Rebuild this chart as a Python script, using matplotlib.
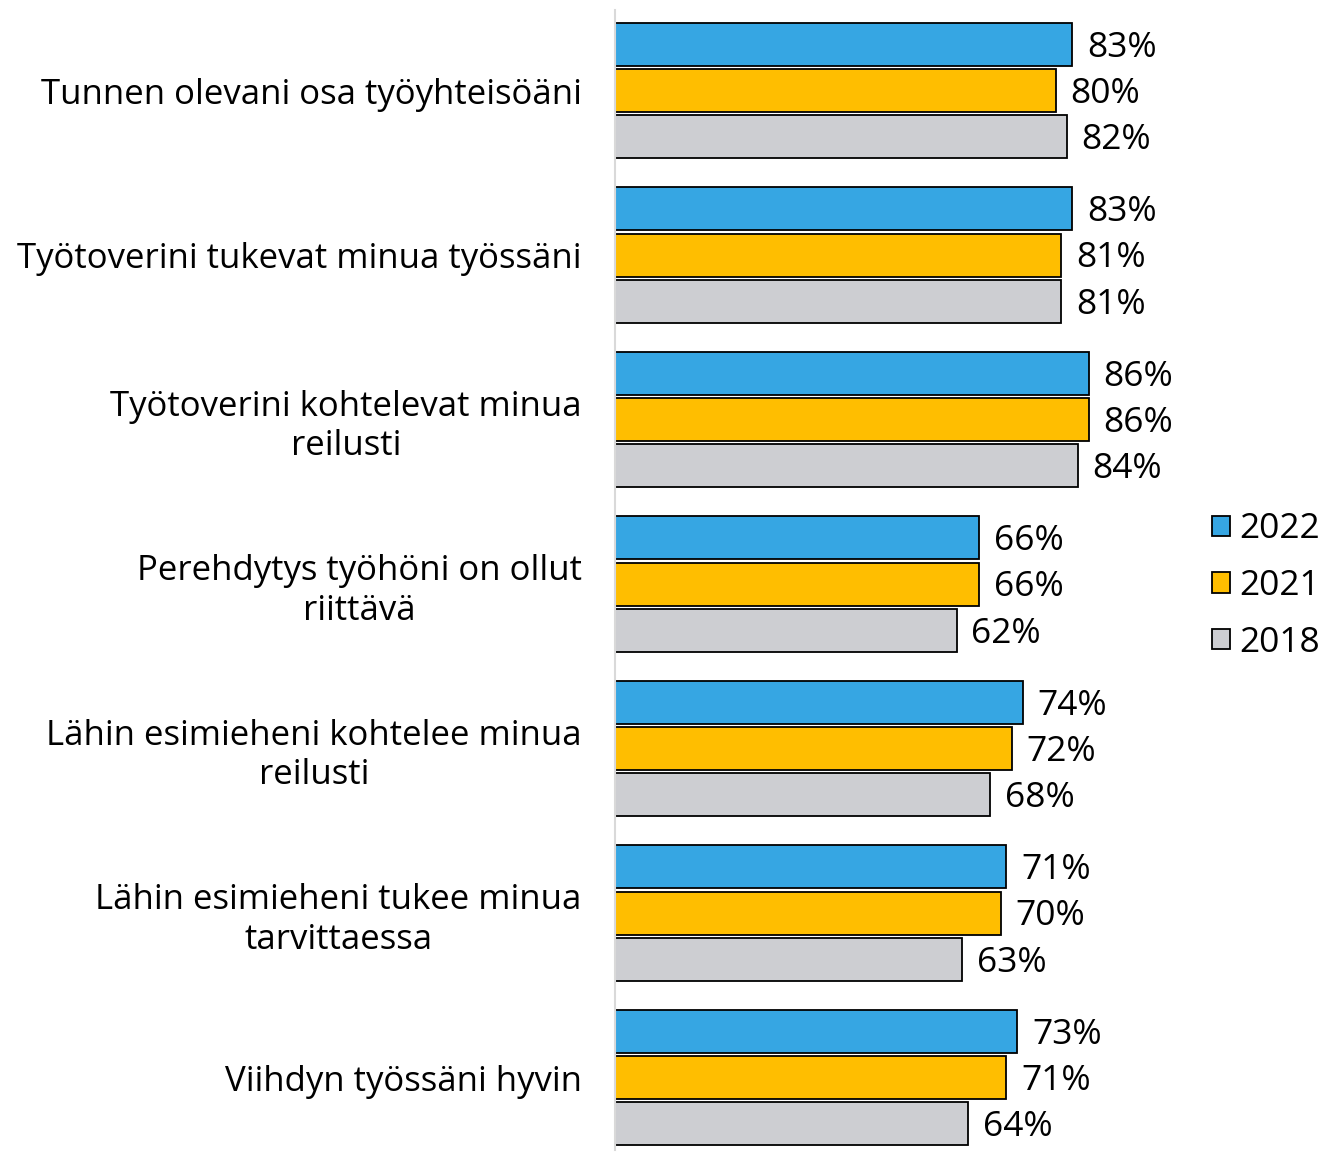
import numpy as np
import matplotlib
matplotlib.use("Agg")
import matplotlib.pyplot as plt
from matplotlib.patches import Patch

plt.rcParams["font.family"] = ["Open Sans", "DejaVu Sans"]

categories = ["Tunnen olevani osa työyhteisöäni",
              "Työtoverini tukevat minua työssäni",
              "Työtoverini kohtelevat minua\nreilusti",
              "Perehdytys työhöni on ollut\nriittävä",
              "Lähin esimieheni kohtelee minua\nreilusti",
              "Lähin esimieheni tukee minua\ntarvittaessa",
              "Viihdyn työssäni hyvin"]
years = ["2022", "2021", "2018"]
v2022 = [83, 83, 86, 66, 74, 71, 73]
v2021 = [80, 81, 86, 66, 72, 70, 71]
v2018 = [82, 81, 84, 62, 68, 63, 64]

colors = ["#36A6E3", "#FFBE00", "#CDCED2"]

fig = plt.figure(figsize=(13.24, 11.53), dpi=100)
ax = fig.add_axes([615/1324, 3/1153, 551/1324, 1140/1153])

y = np.arange(len(categories))
h = 0.262
step = 0.281
for k, vals in enumerate([v2022, v2021, v2018]):
    pos = y + (k - 1)*step
    ax.barh(pos, vals, height=h, color=colors[k], edgecolor="black", linewidth=1.3)
    for p, v in zip(pos, vals):
        ax.text(v + 2.7, p + 0.02, "%d%%" % v, va="center", ha="left", fontsize=25.5)

ax.set_xlim(0, 100)
ax.set_ylim(6.44, -0.49)
ax.set_yticks(y)
ax.set_yticklabels(categories, fontsize=25, ha="right", multialignment="center", linespacing=1.22)
ax.tick_params(axis="y", length=0, pad=24)
ax.set_xticks([])
for s in ["top", "right", "bottom"]:
    ax.spines[s].set_visible(False)
ax.spines["left"].set_color("#D9D9D9")
ax.spines["left"].set_linewidth(1.5)

handles = [Patch(facecolor=c, edgecolor="black", linewidth=1.3) for c in colors]
fig.legend(handles, years, loc="center left", bbox_to_anchor=(1212/1324, 1 - 586/1153),
           frameon=False, fontsize=25.5, handlelength=0.5, handleheight=0.5,
           handletextpad=0.28, labelspacing=0.64, borderaxespad=0, borderpad=0)

fig.savefig("out.png", dpi=100)
